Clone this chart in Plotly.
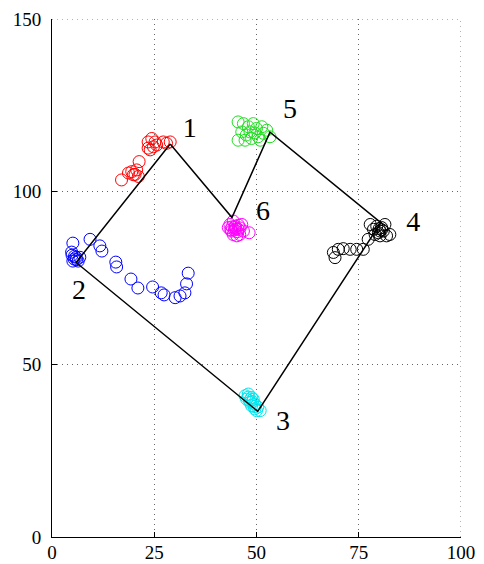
import plotly.graph_objects as go

# Cluster members (x, y)
c1_x = [17.0, 18.7, 19.5, 19.9, 20.7, 21.3, 21.1, 23.5, 24.0, 24.4, 25.2, 24.8, 25.6, 27.2, 28.0, 28.9, 23.5, 20.3]
c1_y = [103.4, 105.4, 105.8, 104.9, 106.3, 108.7, 104.4, 114.4, 112.1, 115.4, 114.4, 113.0, 113.5, 114.4, 114.0, 114.4, 112.6, 105.0]

c2_x = [5.1, 4.8, 4.9, 5.4, 5.9, 6.4, 6.8, 5.1, 9.3, 11.7, 12.2, 15.6, 15.8, 19.3, 21.0, 24.6, 26.7, 27.4, 30.1, 31.3, 32.5, 32.9, 33.3, 6.0, 5.5]
c2_y = [85.1, 82.5, 81.6, 80.5, 81.0, 79.9, 81.0, 79.9, 86.2, 84.3, 82.8, 79.6, 78.2, 74.7, 72.1, 72.4, 70.7, 70.1, 69.3, 69.8, 70.7, 73.3, 76.4, 80.3, 81.3]

c3_x = [48.0, 47.6, 48.4, 48.8, 49.6, 50.0, 50.9, 49.2, 47.2, 48.8, 49.6, 48.3, 49.0, 48.0, 49.4, 50.3]
c3_y = [41.4, 39.9, 39.0, 38.0, 37.1, 36.6, 36.6, 39.9, 40.9, 40.4, 38.5, 39.5, 39.2, 40.5, 37.8, 37.6]

c4_x = [68.8, 69.2, 70.0, 71.2, 72.9, 74.5, 76.1, 77.3, 77.8, 78.6, 79.4, 79.8, 80.6, 81.0, 81.4, 82.6, 81.8, 80.2, 79.0, 80.2, 80.6, 80.0]
c4_y = [82.4, 80.9, 83.3, 83.5, 83.3, 83.3, 83.3, 86.2, 90.5, 89.1, 90.0, 88.1, 89.6, 88.6, 90.5, 87.6, 87.2, 87.2, 87.6, 88.6, 89.0, 89.3]

c5_x = [45.5, 45.5, 46.8, 47.2, 48.0, 48.8, 49.2, 50.0, 50.4, 51.3, 51.7, 52.5, 53.3, 48.4, 46.4, 50.9, 47.5, 49.6]
c5_y = [120.2, 114.9, 119.7, 114.9, 118.8, 115.4, 119.7, 118.3, 115.9, 118.8, 116.9, 117.8, 115.9, 117.3, 117.3, 114.9, 116.4, 117.0]

c6_x = [43.5, 44.3, 44.7, 43.9, 45.5, 45.9, 46.4, 46.8, 45.2, 48.2, 43.1, 44.3, 44.8, 45.0, 44.0, 45.3, 46.0, 44.6, 45.6, 43.7]
c6_y = [90.5, 91.5, 89.6, 88.6, 89.1, 87.6, 90.5, 88.6, 87.2, 88.1, 89.6, 87.6, 90.0, 89.2, 89.8, 88.4, 89.5, 88.9, 90.3, 89.0]

# Path connecting the cluster representatives, closed loop 1-2-3-4-5-6-1
path_x = [28.9, 5.9, 50.3, 80.4, 53.3, 44.0, 28.9]
path_y = [113.8, 79.5, 36.4, 91.0, 117.2, 92.5, 113.8]

# Cluster labels
label_text = ["1", "2", "3", "4", "5", "6"]
label_x = [33.7, 6.6, 56.5, 88.3, 58.2, 51.6]
label_y = [117.8, 70.9, 33.0, 90.5, 123.5, 93.9]

clusters = [
    (c1_x, c1_y, "#ff0000"),
    (c2_x, c2_y, "#0000ff"),
    (c3_x, c3_y, "#00e5ee"),
    (c4_x, c4_y, "#000000"),
    (c5_x, c5_y, "#22dd22"),
    (c6_x, c6_y, "#ff00ff"),
]

TICK_FONT = "Liberation Serif"
LABEL_FONT = "Times New Roman"
GRID_DASH = "1px,4px"
GRID_COLOR = "#666666"

fig = go.Figure()
for xs, ys, col in clusters:
    fig.add_trace(go.Scatter(
        x=xs, y=ys, mode="markers",
        marker=dict(symbol="circle-open", size=12, color=col, line=dict(width=1, color=col)),
        showlegend=False, hoverinfo="skip",
    ))

fig.add_trace(go.Scatter(
    x=path_x, y=path_y, mode="lines",
    line=dict(color="black", width=1.5),
    showlegend=False, hoverinfo="skip",
))

fig.add_trace(go.Scatter(
    x=label_x, y=label_y, mode="text", text=label_text,
    textfont=dict(family=LABEL_FONT, size=28, color="black"),
    showlegend=False, hoverinfo="skip",
))

# Dotted frame along the top and right edges of the axes box
fig.add_shape(type="line", xref="x", yref="y", x0=0, x1=100, y0=150, y1=150,
              line=dict(color=GRID_COLOR, width=1, dash=GRID_DASH), layer="below")
fig.add_shape(type="line", xref="x", yref="y", x0=100, x1=100, y0=0, y1=150,
              line=dict(color=GRID_COLOR, width=1, dash=GRID_DASH), layer="below")

axis_common = dict(
    showline=True, linecolor="black", linewidth=1,
    ticks="inside", ticklen=5, tickcolor="black",
    showgrid=True, gridcolor=GRID_COLOR, gridwidth=1, griddash=GRID_DASH,
    zeroline=False, mirror=False, automargin=False,
    tickfont=dict(family=TICK_FONT, size=19, color="black"),
)

fig.update_layout(
    width=484, height=564,
    margin=dict(l=52, r=23, t=19, b=27),
    paper_bgcolor="white", plot_bgcolor="white",
    xaxis=dict(range=[0, 100], tickvals=[0, 25, 50, 75, 100], ticklabelstandoff=-2, **axis_common),
    yaxis=dict(range=[0, 150], tickvals=[0, 50, 100, 150], ticklabelstandoff=6, **axis_common),
)

fig.write_html("out.html")
